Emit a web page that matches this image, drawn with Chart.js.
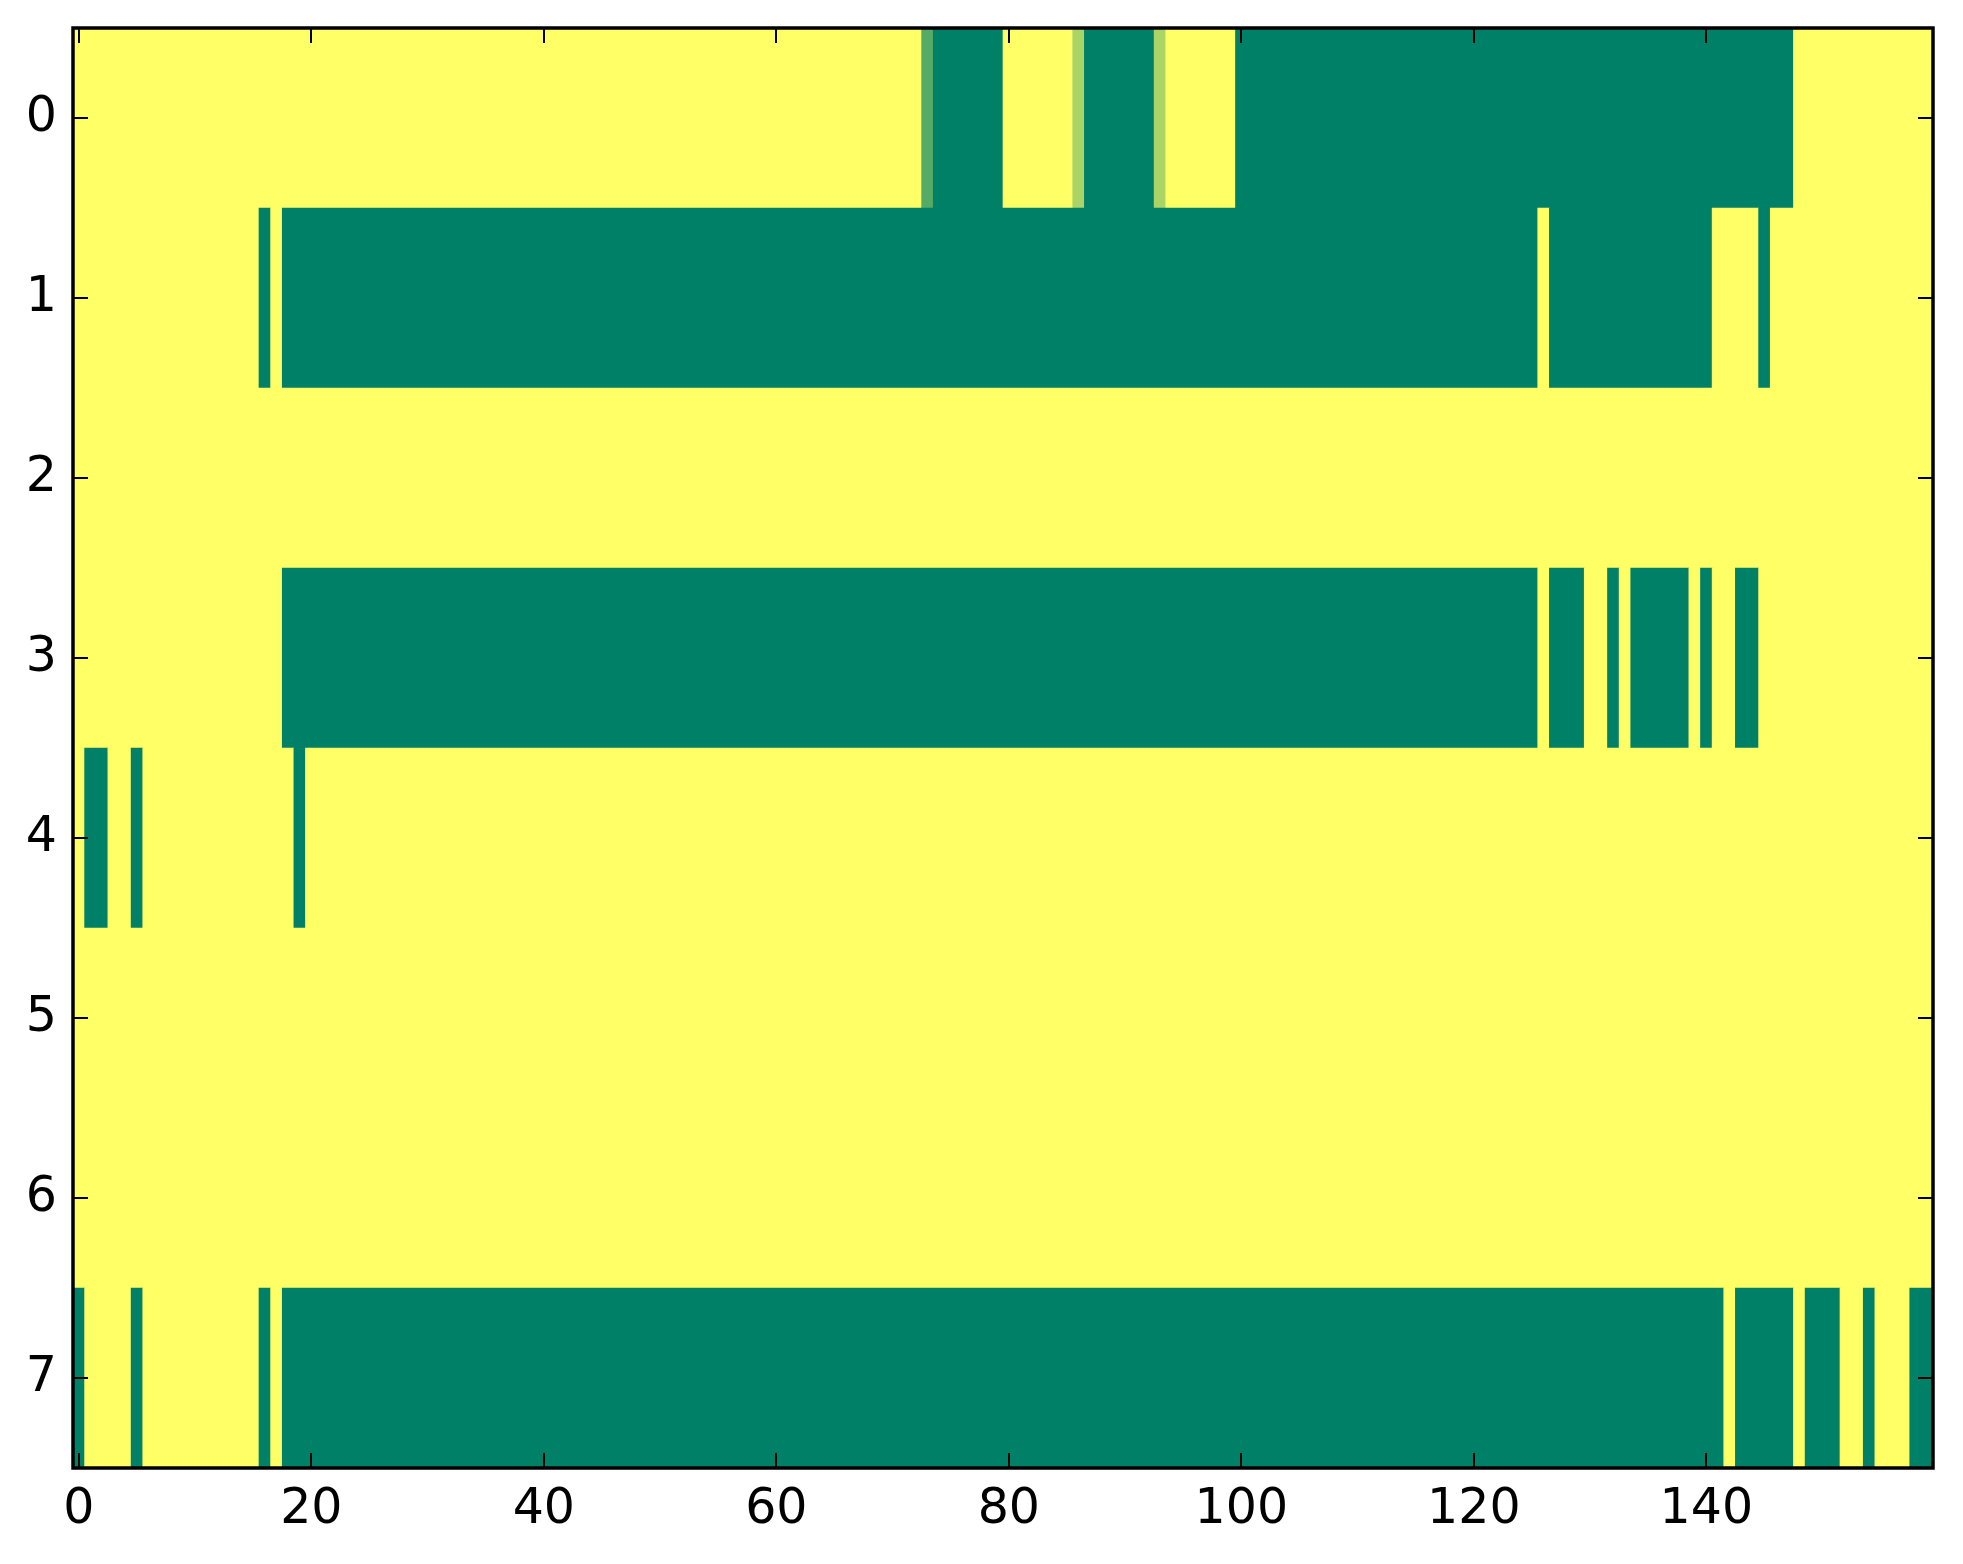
<!DOCTYPE html>
<html>
<head>
<meta charset="utf-8">
<script src="https://cdn.jsdelivr.net/npm/chart.js@4.4.1/dist/chart.umd.min.js"></script>
<style>
  html, body { margin: 0; padding: 0; background: #fff; }
  #wrap { width: 1963px; height: 1564px; }
</style>
</head>
<body>
<div id="wrap"><canvas id="heat" width="1963" height="1564"></canvas></div>
<script>
// each row: runs of [value, number of columns], value 0 (green) .. 3 (yellow)
const row0 = [[3, 73], [1, 1], [0, 6], [3, 6], [2, 1], [0, 6], [2, 1], [3, 6], [0, 48], [3, 12]];
const row1 = [[3, 16], [0, 1], [3, 1], [0, 108], [3, 1], [0, 14], [3, 4], [0, 1], [3, 14]];
const row2 = [[3, 160]];
const row3 = [[3, 18], [0, 108], [3, 1], [0, 3], [3, 2], [0, 1], [3, 1], [0, 5], [3, 1], [0, 1], [3, 2], [0, 2], [3, 15]];
const row4 = [[3, 1], [0, 2], [3, 2], [0, 1], [3, 13], [0, 1], [3, 140]];
const row5 = [[3, 160]];
const row6 = [[3, 160]];
const row7 = [[0, 1], [3, 4], [0, 1], [3, 10], [0, 1], [3, 1], [0, 124], [3, 1], [0, 5], [3, 1], [0, 3], [3, 2], [0, 1], [3, 3], [0, 2]];
const rows = [row0, row1, row2, row3, row4, row5, row6, row7];

const xTickValues = [0, 20, 40, 60, 80, 100, 120, 140];
const yTickValues = [0, 1, 2, 3, 4, 5, 6, 7];
const vmax = 3;

// matplotlib "summer" colormap
function summer(v) {
  const t = v / vmax;
  return "rgb(" + Math.round(255 * t) + "," + Math.round(255 * (0.5 + 0.5 * t)) + "," + Math.round(255 * 0.4) + ")";
}

// one floating bar per run of equal cells
const cells = [];
rows.forEach(function(runs, r) {
  let col = 0;
  runs.forEach(function(run) {
    cells.push({ x: [col - 0.5, col + run[1] - 0.5], y: r, v: run[0] });
    col += run[1];
  });
});

const frame = {
  id: "frame",
  afterDraw(chart) {
    const c = chart.ctx, a = chart.chartArea;
    const sx = chart.scales.x, sy = chart.scales.y;
    const len = 15;
    c.save();
    c.strokeStyle = "#000";
    c.lineWidth = 2;
    c.beginPath();
    xTickValues.forEach(function(v) {
      const px = Math.round(sx.getPixelForValue(v));
      c.moveTo(px, a.bottom); c.lineTo(px, a.bottom - len);
      c.moveTo(px, a.top); c.lineTo(px, a.top + len);
    });
    yTickValues.forEach(function(v) {
      const py = Math.round(sy.getPixelForValue(v));
      c.moveTo(a.left, py); c.lineTo(a.left + len, py);
      c.moveTo(a.right, py); c.lineTo(a.right - len, py);
    });
    c.stroke();
    c.lineWidth = 3.5;
    c.strokeRect(a.left, a.top, a.right - a.left, a.bottom - a.top);
    c.restore();
  }
};

const tickFont = { family: "DejaVu Sans", size: 49 };

function noPad(s) {
  s.paddingTop = 0; s.paddingBottom = 0; s.paddingLeft = 0; s.paddingRight = 0;
}

new Chart(document.getElementById("heat").getContext("2d"), {
  type: "bar",
  data: {
    datasets: [{
      data: cells,
      backgroundColor: function(ctx) { return ctx.raw ? summer(ctx.raw.v) : "#000"; },
      borderWidth: 0,
      categoryPercentage: 1,
      barPercentage: 1
    }]
  },
  options: {
    indexAxis: "y",
    responsive: false,
    animation: false,
    events: [],
    layout: { padding: { top: 28, right: 30, left: 0, bottom: 0 } },
    plugins: { legend: { display: false }, tooltip: { enabled: false } },
    scales: {
      x: {
        type: "linear",
        min: -0.5,
        max: 159.5,
        offset: false,
        grid: { display: false, drawTicks: false, tickLength: 0 },
        border: { display: false },
        afterBuildTicks: function(s) { s.ticks = xTickValues.map(function(v) { return { value: v }; }); },
        afterFit: function(s) { s.height = 96; noPad(s); },
        ticks: { font: tickFont, color: "#000", padding: 13, maxRotation: 0, autoSkip: false,
                 callback: function(v) { return String(v); } }
      },
      y: {
        type: "linear",
        reverse: true,
        min: -0.5,
        max: 7.5,
        offset: false,
        grid: { display: false, drawTicks: false, tickLength: 0 },
        border: { display: false },
        afterBuildTicks: function(s) { s.ticks = yTickValues.map(function(v) { return { value: v }; }); },
        afterFit: function(s) { s.width = 73; noPad(s); },
        ticks: { font: tickFont, color: "#000", padding: 16, autoSkip: false,
                 callback: function(v) { return String(v); } }
      }
    }
  },
  plugins: [frame]
});
</script>
</body>
</html>
